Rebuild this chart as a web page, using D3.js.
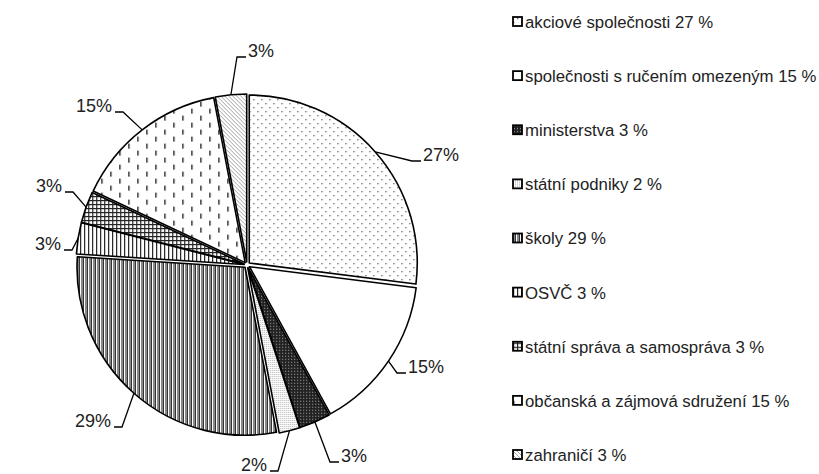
<!DOCTYPE html>
<html>
<head>
<meta charset="utf-8">
<script src="https://cdnjs.cloudflare.com/ajax/libs/d3/7.8.5/d3.min.js"></script>
<style>
  body { margin: 0; background: #fff; }
  text { font-family: "Liberation Sans", Arial, sans-serif; fill: #222; }
</style>
</head>
<body>
<div id="chart"></div>
<script>
// chart data
var categories = ["akciové společnosti", "společnosti s ručením omezeným", "ministerstva",
    "státní podniky", "školy", "OSVČ", "státní správa a samospráva",
    "občanská a zájmová sdružení", "zahraničí"];
var values = [27, 15, 3, 2, 29, 3, 3, 15, 3];
var patternIds = ["dots", "plain", "darkdots", "lightdots", "vlines", "vlinesWide", "grid", "dashes", "diag"];

// where the leader line bends, relative to pie centre (best-fit layout), and which side the label sits
var labelBend = [[165, -104], [150, 108], [83, 197], [31, 206], [-125, 162], [-175, -15], [-174, -73], [-124, -153], [-10, -208]];
var labelSide = [1, 1, 1, -1, -1, -1, -1, -1, 1];

var width = 819, height = 474;
var cx = 247, cy = 265, radius = 168, explode = 3;

var svg = d3.select("#chart").append("svg")
    .attr("width", width)
    .attr("height", height);

// fill patterns, mimicking the black & white office chart
var defs = svg.append("defs");
function pat(id, w, h) {
    return defs.append("pattern").attr("id", id)
        .attr("patternUnits", "userSpaceOnUse")
        .attr("width", w).attr("height", h);
}
var p;
p = pat("dots", 8, 8);
p.append("rect").attr("width", 8).attr("height", 8).attr("fill", "#fff");
p.append("rect").attr("x", 0).attr("y", 0).attr("width", 1.3).attr("height", 1.3).attr("fill", "#666");
p.append("rect").attr("x", 4).attr("y", 4).attr("width", 1.3).attr("height", 1.3).attr("fill", "#666");

p = pat("plain", 4, 4);
p.append("rect").attr("width", 4).attr("height", 4).attr("fill", "#fff");

p = pat("darkdots", 3, 3);
p.append("rect").attr("width", 3).attr("height", 3).attr("fill", "#222");
p.append("rect").attr("x", 1).attr("y", 1).attr("width", 1).attr("height", 1).attr("fill", "#aaa");

p = pat("lightdots", 2, 2);
p.append("rect").attr("width", 2).attr("height", 2).attr("fill", "#fff");
p.append("rect").attr("width", 1).attr("height", 1).attr("fill", "#aaa");

p = pat("vlines", 4, 4);
p.append("rect").attr("width", 4).attr("height", 4).attr("fill", "#fff");
p.append("rect").attr("x", 0).attr("width", 2).attr("height", 4).attr("fill", "#888");
p.append("rect").attr("x", 2).attr("width", 1).attr("height", 4).attr("fill", "#333");

p = pat("vlinesWide", 4, 4);
p.append("rect").attr("width", 4).attr("height", 4).attr("fill", "#fff");
p.append("rect").attr("x", 0).attr("width", 1.2).attr("height", 4).attr("fill", "#222");

p = pat("grid", 4, 4);
p.append("rect").attr("width", 4).attr("height", 4).attr("fill", "#fff");
p.append("rect").attr("width", 1.2).attr("height", 4).attr("fill", "#222");
p.append("rect").attr("width", 4).attr("height", 1.2).attr("fill", "#222");

p = pat("dashes", 18, 14);
p.append("rect").attr("width", 18).attr("height", 14).attr("fill", "#fff");
p.append("rect").attr("x", 0).attr("y", 0).attr("width", 1.5).attr("height", 5).attr("fill", "#333");
p.append("rect").attr("x", 9).attr("y", 7).attr("width", 1.5).attr("height", 5).attr("fill", "#333");

p = pat("diag", 4, 4);
p.append("rect").attr("width", 4).attr("height", 4).attr("fill", "#fff");
p.append("path").attr("d", "M-1,-1L5,5M-1,3L1,5M3,-1L5,1").attr("stroke", "#999").attr("stroke-width", 0.9);

var data = categories.map(function(c, i) { return {name: c, value: values[i], pattern: patternIds[i]}; });

var pie = d3.pie()
    .sort(null)
    .value(function(d) { return d.value; });

var arc = d3.arc()
    .innerRadius(0)
    .outerRadius(radius);

var arcs = pie(data);

var g = svg.append("g")
    .attr("transform", "translate(" + cx + "," + cy + ")");

// slices, each pulled out slightly from the centre
g.selectAll(".slice")
    .data(arcs)
    .enter().append("path")
    .attr("class", "slice")
    .attr("d", arc)
    .attr("transform", function(d) {
        var a = (d.startAngle + d.endAngle) / 2;
        return "translate(" + (explode * Math.sin(a)) + "," + (-explode * Math.cos(a)) + ")";
    })
    .attr("fill", function(d) { return "url(#" + d.data.pattern + ")"; })
    .attr("stroke", "#000")
    .attr("stroke-width", 1.6)
    .attr("stroke-linejoin", "round");

// leader lines + percentage labels
arcs.forEach(function(d, i) {
    var a = (d.startAngle + d.endAngle) / 2;
    var sx = (radius + explode) * Math.sin(a), sy = -(radius + explode) * Math.cos(a);
    var b = labelBend[i];
    var right = labelSide[i] > 0;
    var ex = right ? b[0] + 9 : b[0] - 8;
    g.append("path")
        .attr("d", "M" + sx + "," + sy + "L" + b[0] + "," + b[1] + "L" + ex + "," + b[1])
        .attr("fill", "none")
        .attr("stroke", "#000")
        .attr("stroke-width", 1.3);
    g.append("text")
        .attr("x", right ? ex + 2 : ex - 3)
        .attr("y", b[1])
        .attr("dy", "-0.02em")
        .attr("text-anchor", right ? "start" : "end")
        .style("font-size", "18px")
        .text(d.data.value + "%");
});

// legend
var legendY = d3.scalePoint()
    .domain(categories)
    .range([22, 455]);

var legend = svg.selectAll(".legend")
    .data(data)
    .enter().append("g")
    .attr("class", "legend")
    .attr("transform", function(d) { return "translate(513," + legendY(d.name) + ")"; });

legend.append("rect")
    .attr("x", 0).attr("y", -5)
    .attr("width", 9).attr("height", 9)
    .attr("fill", function(d) { return "url(#" + d.pattern + ")"; })
    .attr("stroke", "#000")
    .attr("stroke-width", 1.8);

legend.append("text")
    .attr("x", 12)
    .attr("y", 0)
    .attr("dy", "0.35em")
    .style("font-size", "16.75px")
    .text(function(d) { return d.name + " " + d.value + " %"; });
</script>
</body>
</html>
